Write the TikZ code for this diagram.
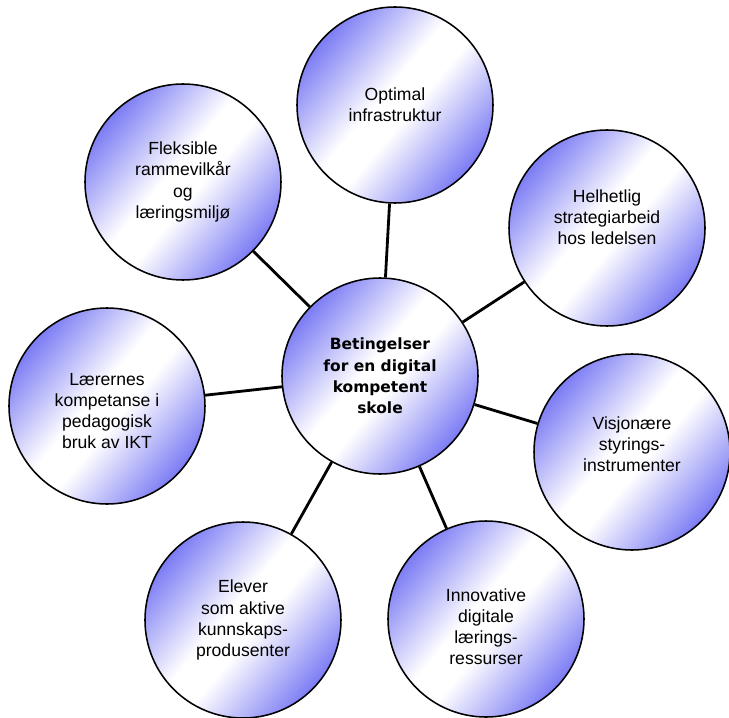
\documentclass[tikz,border=0pt]{standalone}
\usepackage{fontspec}
\setmainfont{Liberation Sans}
\newfontfamily\corefont{DejaVu Sans}
\usepackage{tikz}
\usetikzlibrary{backgrounds}
\definecolor{lblue}{RGB}{92,92,242}
% blue rim, white band across the middle
\pgfdeclareverticalshading{orb}{100bp}{color(0bp)=(lblue); color(20bp)=(lblue); color(46bp)=(white); color(54bp)=(white); color(80bp)=(lblue); color(100bp)=(lblue)}
\tikzstyle{factor}=[circle,draw=black,line width=1.100,minimum size=4.9cm,inner sep=0pt,align=center,shading=orb,shading angle=50,font=\fontsize{12.5}{15}\selectfont]
\tikzstyle{core}=[factor,font=\corefont\fontsize{11}{15.2}\selectfont\bfseries]
\tikzstyle{caption}=[align=center,inner sep=0pt,font=\fontsize{12.5}{15}\selectfont]
\tikzstyle{simple}=[-,line width=2.000]
\pgfdeclarelayer{edgelayer}
\pgfdeclarelayer{nodelayer}
\pgfsetlayers{edgelayer,nodelayer,main}

\begin{document}
\begin{tikzpicture}
	\useasboundingbox (-9.5,-8.525) rectangle (8.725,9.4);
	\begin{pgfonlayer}{nodelayer}
		\node [style=core] (skole) at (0, 0) {Betingelser\\for en digital\\kompetent\\skole};
		\node [style=factor] (infra) at (0.375, 6.775) {Optimal\\infrastruktur};
		\node [style=factor] (ramme) at (-4.925, 4.85) {Fleksible\\rammevilkår\\og\\læringsmiljø};
		\node [style=factor] (strategi) at (5.675, 3.7) {};
		\node [style=factor] (laerer) at (-6.825, -0.75) {};
		\node [style=factor] (styring) at (6.3, -1.9) {};
		\node [style=factor] (elever) at (-3.425, -6.1) {Elever\\som aktive\\kunnskaps-\\produsenter};
		\node [style=factor] (ressurs) at (2.65, -6.075) {};

		\node [style=caption] at (5.675, 3.975) {Helhetlig\\strategiarbeid\\hos ledelsen};
		\node [style=caption] at (-6.825, -0.875) {Lærernes\\kompetanse i\\pedagogisk\\bruk av IKT};
		\node [style=caption] at (6.3, -1.7) {Visjonære\\styrings-\\instrumenter};
		\node [style=caption] at (2.65, -6.275) {Innovative\\digitale\\lærings-\\ressurser};
	\end{pgfonlayer}
	\begin{pgfonlayer}{edgelayer}
		\draw [style=simple] (skole) to (infra);
		\draw [style=simple] (skole) to (ramme);
		\draw [style=simple] (skole) to (strategi);
		\draw [style=simple] (skole) to (laerer);
		\draw [style=simple] (skole) to (styring);
		\draw [style=simple] (skole) to (elever);
		\draw [style=simple] (skole) to (ressurs);
	\end{pgfonlayer}
\end{tikzpicture}
\end{document}
